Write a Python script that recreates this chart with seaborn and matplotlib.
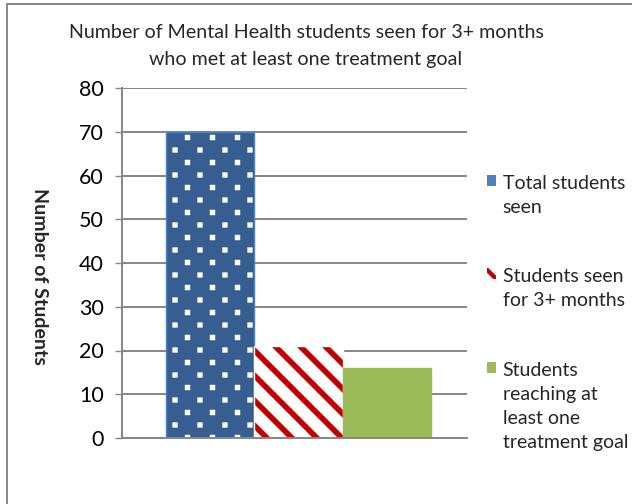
import matplotlib
matplotlib.use("Agg")
import numpy as np
import matplotlib.pyplot as plt
import matplotlib.colors as mcolors
import matplotlib.hatch as mhatch
from matplotlib.path import Path
import seaborn as sns
import pandas as pd
from matplotlib.patches import Rectangle
from matplotlib.legend_handler import HandlerPatch

# ---- data ----
series = ["Total students seen", "Students seen for 3+ months",
          "Students reaching at least one treatment goal"]
legend_labels = ["Total students\nseen", "Students seen\nfor 3+ months",
                 "Students\nreaching at\nleast one\ntreatment goal"]
values = [70, 21, 16]
group = ["Students"] * 3
yticks = [0, 10, 20, 30, 40, 50, 60, 70, 80]
title_text = "Number of Mental Health students seen for 3+ months\nwho met at least one treatment goal"
ylabel_text = "Number of Students"

# ---- style ----
fill_colors = ["#375E91", "#FFFFFF", "#9BBB59"]
edge_colors = ["#4F81BD", "#FFFFFF", "#9BBB59"]
hatch_colors = ["#FFFFFF", "#C00000", None]
hatches = [".", "\\", None]
legend_fill = ["#4F81BD", "#FFFFFF", "#9BBB59"]
legend_hatch = [None, "\\\\", None]
GRID = "#868686"

# ---- Excel-like fill patterns (filled shapes in a 1x1 hatch tile) ----
_orig_get_path = mhatch.get_path


def _square_dots(m=4, size=0.052):
    verts, codes = [], []
    h = size / 2
    for j in range(2 * m + 1):
        y = j / (2 * m)
        off = 0.0 if j % 2 == 0 else 1 / (2 * m)
        for i in range(m + 1):
            x = i / m + off
            verts += [(x - h, y - h), (x + h, y - h), (x + h, y + h), (x - h, y + h), (x - h, y - h)]
            codes += [Path.MOVETO, Path.LINETO, Path.LINETO, Path.LINETO, Path.CLOSEPOLY]
    return Path(verts, codes)


def _diag_stripes(m=4, w=0.078):
    verts, codes = [], []
    for k in range(-m - 1, 3 * m + 2):
        c = k / m
        verts += [(c + 1, -1), (c + w + 1, -1), (c + w - 2, 2), (c - 2, 2), (c + 1, -1)]
        codes += [Path.MOVETO, Path.LINETO, Path.LINETO, Path.LINETO, Path.CLOSEPOLY]
    return Path(verts, codes)


_CUSTOM = {".": _square_dots(), "\\": _diag_stripes(),
           "\\\\": _diag_stripes(m=7, w=0.06)}


def _get_path(hatchpattern, density=6):
    if hatchpattern in _CUSTOM:
        return _CUSTOM[hatchpattern]
    return _orig_get_path(hatchpattern, density)


mhatch.get_path = _get_path
Path.hatch.cache_clear()

sns.set_theme(style="white")
plt.rcParams["font.family"] = ["Lato", "DejaVu Sans"]
plt.rcParams["hatch.linewidth"] = 0.1

fig = plt.figure(figsize=(6.32, 5.04), dpi=100)
W, H = 632, 504
ax = fig.add_axes([122 / W, 1 - 438 / H, 345 / W, 350 / H])

df = pd.DataFrame({"group": group, "series": series, "value": values})
sns.barplot(data=df, x="group", y="value", hue="series", hue_order=series,
            palette=fill_colors, saturation=1, ax=ax, legend=False,
            width=0.8, gap=0, err_kws={"linewidth": 0})

bars = list(ax.patches)[:3]
for p, fc, ec, hc, ht in zip(bars, fill_colors, edge_colors, hatch_colors, hatches):
    p.set_facecolor(fc)
    p.set_edgecolor(ec)
    p.set_linewidth(1.0)
    if ht:
        p.set_hatch(ht)
        p._hatch_color = mcolors.to_rgba(hc)

ax.set_ylim(0, 80)
ax.set_xlim(-0.533, 0.509)
ax.set_yticks(yticks)
ax.set_xticks([])
ax.set_xlabel("")
ax.set_ylabel(ylabel_text, rotation=-90, fontsize=14, fontweight="bold",
              va="center")
ax.yaxis.set_label_coords(-0.238, 0.463)
ax.yaxis.grid(True, color=GRID, linewidth=1.4)
ax.set_axisbelow(True)
for s in ["top", "right"]:
    ax.spines[s].set_visible(False)
for s in ["left", "bottom"]:
    ax.spines[s].set_color(GRID)
    ax.spines[s].set_linewidth(1.4)
ax.tick_params(axis="y", length=5, width=1.0, color=GRID, direction="out",
               pad=8, labelsize=15.5, labelcolor="black", left=True)

fig.text(306 / W, 1 - 46 / H, title_text, ha="center", va="center",
         fontsize=14.1, linespacing=1.73)

# chart border
fig.add_artist(Rectangle((7 / W, -0.1), 1.2, 1 - 4 / H + 0.1,
                         transform=fig.transFigure, fill=False,
                         edgecolor=GRID, linewidth=1.4))

# legend proxies; handle aligned to first text line
proxies = []
for fc, ht, hc in zip(legend_fill, legend_hatch, hatch_colors):
    r = Rectangle((0, 0), 1, 1, facecolor=fc, edgecolor="none", linewidth=0)
    if ht:
        r.set_hatch(ht)
        r._hatch_color = mcolors.to_rgba(hc)
    proxies.append(r)

HALF_LINE_PT = 8.64
OFFSET_PT = 2.2
nlines = [lab.count("\n") + 1 for lab in legend_labels]


def make_handler(n):
    def patch_func(legend, orig_handle, xdescent, ydescent, width, height, fontsize):
        return Rectangle((-xdescent, -ydescent + (n - 1) * HALF_LINE_PT + OFFSET_PT), width, height)
    return HandlerPatch(patch_func=patch_func)


handler_map = {pr: make_handler(n) for pr, n in zip(proxies, nlines)}
leg = ax.legend(proxies, legend_labels, loc="upper left",
                bbox_to_anchor=(477 / W, 1 - 165 / H), bbox_transform=fig.transFigure,
                frameon=False, fontsize=14.0, handlelength=0.5, handleheight=0.5,
                handletextpad=0.32, labelspacing=2.7, borderpad=0,
                handler_map=handler_map)
for t in leg.get_texts():
    t.set_linespacing(1.5)
for h, ht, hc in zip(leg.legend_handles, legend_hatch, hatch_colors):
    if ht:
        h._hatch_color = mcolors.to_rgba(hc)

fig.savefig("out.png", dpi=100)
